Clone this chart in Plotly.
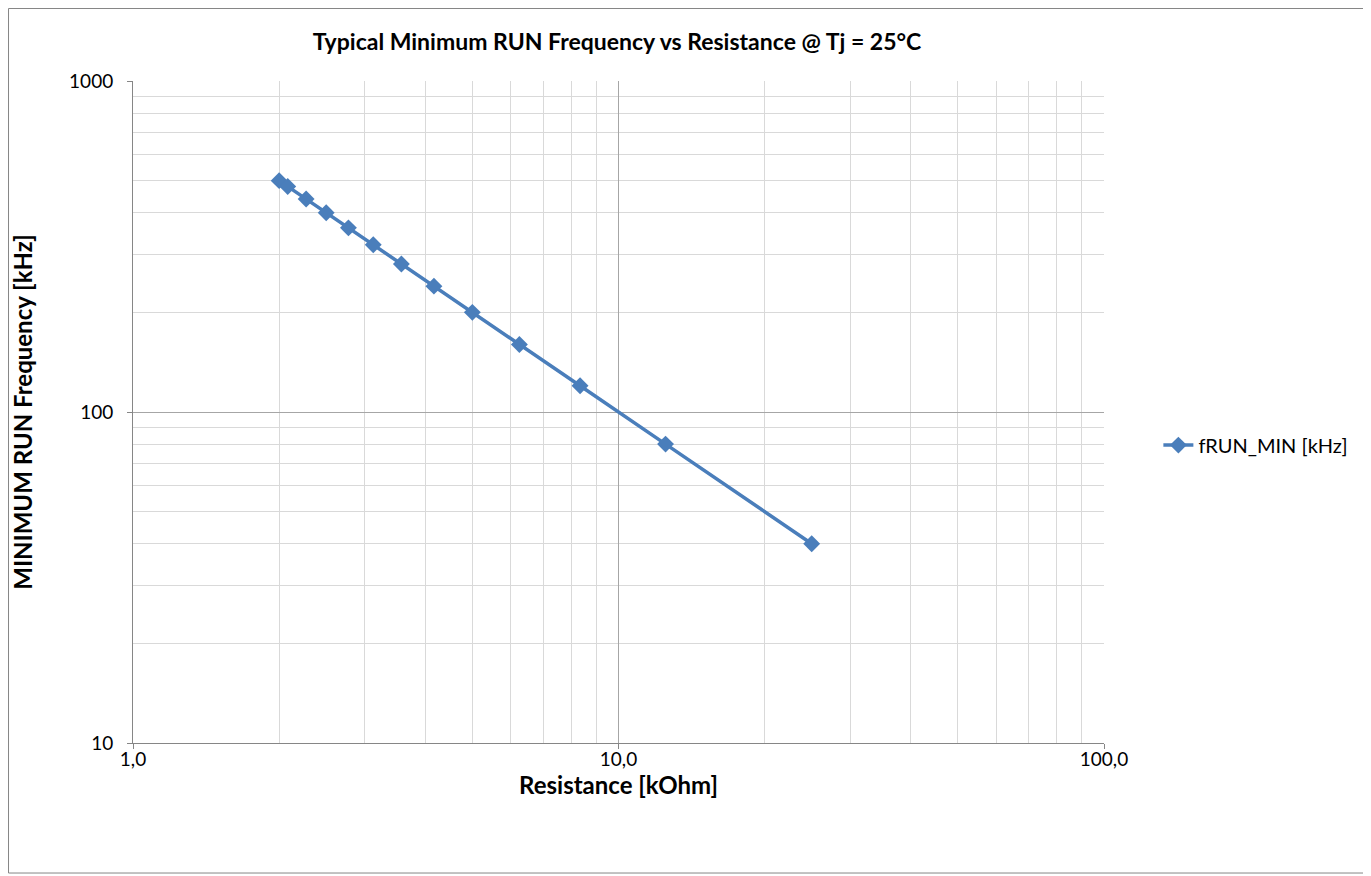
import plotly.graph_objects as go

resistance_kohm = [2.0, 2.083, 2.273, 2.5, 2.778, 3.125, 3.571, 4.167, 5.0, 6.25, 8.333, 12.5, 25.0]
frun_min_khz = [500, 480, 440, 400, 360, 320, 280, 240, 200, 160, 120, 80, 40]
series_name = "fRUN_MIN [kHz]"

x_tickvals = [1, 10, 100]
x_ticktext = ["1,0", "10,0", "100,0"]
y_tickvals = [10, 100, 1000]
y_ticktext = ["10", "100", "1000"]
x_minor = [2, 3, 4, 5, 6, 7, 8, 9, 20, 30, 40, 50, 60, 70, 80, 90]
y_minor = [20, 30, 40, 50, 60, 70, 80, 90, 200, 300, 400, 500, 600, 700, 800, 900]

FONT = "Lato, 'Open Sans', sans-serif"
blue = "#4a7ebb"

fig = go.Figure()
fig.add_trace(go.Scatter(
    x=resistance_kohm, y=frun_min_khz, mode="lines+markers", name=series_name,
    line=dict(color=blue, width=3.5),
    marker=dict(symbol="diamond", size=13, color=blue),
))

axis_common = dict(
    type="log", showline=True, linecolor="#868686", linewidth=1,
    ticks="outside", ticklen=5, tickcolor="#868686",
    showgrid=True, gridcolor="#a6a6a6", gridwidth=1, zeroline=False,
    tickfont=dict(family=FONT, size=19, color="#000000"),
)

fig.update_xaxes(
    **axis_common, range=[0, 2], tickmode="array", tickvals=x_tickvals, ticktext=x_ticktext,
    ticklabelstandoff=-6,
    minor=dict(tickmode="array", tickvals=x_minor, showgrid=True, gridcolor="#d9d9d9", ticks=""),
    title=dict(text="<b>Resistance [kOhm]</b>", font=dict(family=FONT, size=24, color="#000"), standoff=0),
)
fig.update_yaxes(
    **axis_common, range=[1, 3], tickmode="array", tickvals=y_tickvals, ticktext=y_ticktext,
    ticklabelstandoff=10,
    minor=dict(tickmode="array", tickvals=y_minor, showgrid=True, gridcolor="#d9d9d9", ticks=""),
    title=dict(text="<b>MINIMUM RUN Frequency [kHz]</b>", font=dict(family=FONT, size=24, color="#000"), standoff=30),
)

fig.update_layout(
    width=1363, height=868,
    margin=dict(l=125, r=267, t=73, b=133),
    paper_bgcolor="white", plot_bgcolor="white",
    showlegend=True,
    title=dict(text="<b>Typical Minimum RUN Frequency vs Resistance @ Tj = 25°C</b>",
               font=dict(family=FONT, size=23, color="#000"),
               xref="paper", x=0.4985, xanchor="center", y=0.961, yanchor="middle"),
    legend=dict(x=1.056, y=0.45, xanchor="left", yanchor="middle",
                font=dict(family=FONT, size=20, color="#000"), bgcolor="rgba(0,0,0,0)"),
    shapes=[dict(type="rect", xref="paper", yref="paper", x0=-0.1282, x1=1.2698, y0=-0.1964, y1=1.1095,
                 line=dict(color="#868686", width=1), fillcolor="rgba(0,0,0,0)", layer="below")],
)

fig.write_html("out.html")
